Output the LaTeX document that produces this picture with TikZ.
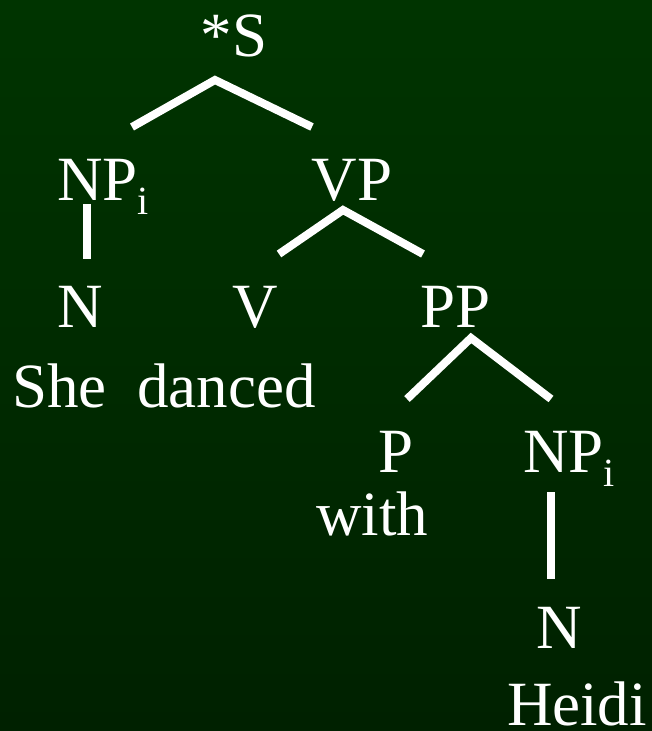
\documentclass[tikz,border=0pt]{standalone}
\usepackage{fontspec}
\setmainfont{Liberation Serif}
\definecolor{bgtop}{RGB}{0,52,0}
\definecolor{bgbot}{RGB}{0,33,0}
\newcommand{\subi}{\raisebox{-14pt}{\fontsize{40}{40}\selectfont i}}
\tikzset{
  lbl/.style={text=white, inner sep=0pt, anchor=base, font=\fontsize{63}{70}\selectfont},
  branch/.style={draw=white, line width=8pt}
}
\begin{document}
\begin{tikzpicture}[x=1pt, y=-1pt]
        \shade[top color=bgtop, bottom color=bgbot] (0,0) rectangle (652,731);
        \useasboundingbox (0,0) rectangle (652,731);

        \node[lbl] (s) at (234, 56) {*S};
        \node[lbl, anchor=base west] (np1) at (57, 200) {NP\subi};
        \node[lbl] (vp) at (352, 200) {VP};
        \node[lbl] (n1) at (80, 327) {N};
        \node[lbl] (v) at (255, 327) {V};
        \node[lbl] (pp) at (456, 327) {PP};
        \node[lbl, anchor=base west] (she) at (12, 407) {She};
        \node[lbl, anchor=base west] (danced) at (137, 407) {danced};
        \node[lbl] (p) at (396, 472) {P};
        \node[lbl, anchor=base west] (np2) at (523, 472) {NP\subi};
        \node[lbl] (with) at (372, 535) {with};
        \node[lbl] (n2) at (559, 648) {N};
        \node[lbl] (heidi) at (577, 725) {Heidi};

        % joints of the branches
        \coordinate (s-j) at (215, 80);
        \coordinate (s-l) at (132, 127);
        \coordinate (s-r) at (312, 127);
        \coordinate (np1-t) at (87, 204);
        \coordinate (np1-b) at (87, 259);
        \coordinate (vp-j) at (343, 210);
        \coordinate (vp-l) at (279, 254);
        \coordinate (vp-r) at (423, 254);
        \coordinate (pp-j) at (471, 338);
        \coordinate (pp-l) at (407, 399);
        \coordinate (pp-r) at (551, 399);
        \coordinate (np2-t) at (551, 492);
        \coordinate (np2-b) at (551, 579);

        \begin{scope}[every path/.style={branch}]
        \draw (s-l) -- (s-j) -- (s-r);
        \draw (np1-t) -- (np1-b);
        \draw (vp-l) -- (vp-j) -- (vp-r);
        \draw (pp-l) -- (pp-j) -- (pp-r);
        \draw (np2-t) -- (np2-b);
        \end{scope}

\end{tikzpicture}
\end{document}
